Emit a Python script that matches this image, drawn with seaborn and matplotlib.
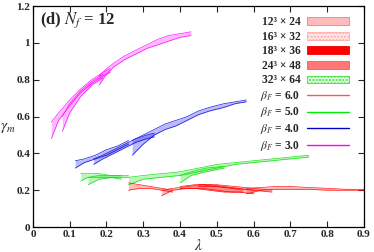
import numpy as np
import pandas as pd
import matplotlib
matplotlib.use("Agg")
import matplotlib.pyplot as plt
import seaborn as sns
from matplotlib.patches import Patch
from matplotlib.lines import Line2D

# ---------------- data ----------------
volume_labels = ["12³ × 24", "16³ × 32", "18³ × 36", "24³ × 48", "32³ × 64"]
beta_labels = ["6.0", "5.0", "4.0", "3.0"]
x_ticks = [0, 0.1, 0.2, 0.3, 0.4, 0.5, 0.6, 0.7, 0.8, 0.9]
y_ticks = [0, 0.2, 0.4, 0.6, 0.8, 1.0, 1.2]

# beta_F = 3.0 (magenta)
b3a_x = [0.05, 0.07, 0.10, 0.13, 0.16, 0.19, 0.21]
b3a_lo = [0.48, 0.58, 0.66, 0.73, 0.78, 0.82, 0.84]
b3a_hi = [0.57, 0.62, 0.69, 0.75, 0.80, 0.84, 0.86]
b3b_x = [0.08, 0.10, 0.13, 0.16, 0.19]
b3b_lo = [0.52, 0.62, 0.71, 0.77, 0.81]
b3b_hi = [0.60, 0.67, 0.74, 0.79, 0.83]
b3c_x = [0.18, 0.20, 0.22, 0.25, 0.28, 0.31, 0.34, 0.37, 0.40, 0.43]
b3c_lo = [0.77, 0.83, 0.87, 0.91, 0.94, 0.97, 0.99, 1.01, 1.03, 1.04]
b3c_hi = [0.82, 0.86, 0.89, 0.93, 0.96, 0.99, 1.02, 1.04, 1.05, 1.06]

# beta_F = 4.0 (blue)
b4a_x = [0.115, 0.14, 0.17, 0.20, 0.23, 0.26]
b4a_lo = [0.32, 0.35, 0.37, 0.39, 0.42, 0.45]
b4a_hi = [0.36, 0.37, 0.39, 0.42, 0.44, 0.47]
b4b_x = [0.165, 0.19, 0.22, 0.25, 0.28, 0.31, 0.33]
b4b_lo = [0.34, 0.37, 0.40, 0.43, 0.46, 0.48, 0.49]
b4b_hi = [0.37, 0.39, 0.42, 0.45, 0.48, 0.50, 0.51]
b4c_x = [0.27, 0.30, 0.33, 0.36, 0.39, 0.42, 0.45, 0.48, 0.52, 0.55, 0.58]
b4c_lo = [0.39, 0.45, 0.50, 0.53, 0.55, 0.58, 0.61, 0.63, 0.65, 0.67, 0.68]
b4c_hi = [0.47, 0.50, 0.53, 0.56, 0.58, 0.60, 0.63, 0.65, 0.67, 0.68, 0.69]

# beta_F = 5.0 (green)
b5a_x = [0.13, 0.15, 0.18, 0.21, 0.24]
b5a_lo = [0.25, 0.27, 0.27, 0.27, 0.26]
b5a_hi = [0.29, 0.29, 0.29, 0.28, 0.28]
b5b_x = [0.15, 0.18, 0.22, 0.26]
b5b_lo = [0.23, 0.26, 0.27, 0.27]
b5b_hi = [0.27, 0.28, 0.28, 0.28]
b5c_x = [0.26, 0.30, 0.35, 0.40, 0.45, 0.50, 0.55, 0.60, 0.65, 0.70, 0.75]
b5c_lo = [0.23, 0.26, 0.27, 0.28, 0.30, 0.32, 0.34, 0.35, 0.36, 0.37, 0.38]
b5c_hi = [0.27, 0.28, 0.29, 0.30, 0.32, 0.34, 0.35, 0.36, 0.37, 0.38, 0.39]
b5d_x = [0.40, 0.43, 0.47, 0.52]
b5d_lo = [0.24, 0.28, 0.30, 0.32]
b5d_hi = [0.28, 0.30, 0.32, 0.33]

# beta_F = 6.0 (red)
b6a_x = [0.26, 0.29, 0.32, 0.35, 0.38]
b6a_lo = [0.20, 0.21, 0.21, 0.20, 0.19]
b6a_hi = [0.24, 0.23, 0.22, 0.21, 0.20]
b6b_x = [0.35, 0.38, 0.42, 0.46, 0.50, 0.54, 0.57]
b6b_lo = [0.17, 0.20, 0.21, 0.21, 0.20, 0.19, 0.19]
b6b_hi = [0.20, 0.21, 0.22, 0.23, 0.22, 0.21, 0.20]
b6c_x = [0.40, 0.44, 0.48, 0.52, 0.56, 0.60]
b6c_lo = [0.21, 0.21, 0.20, 0.19, 0.19, 0.18]
b6c_hi = [0.22, 0.23, 0.23, 0.22, 0.21, 0.20]
b6d_x = [0.58, 0.62, 0.66, 0.70, 0.75, 0.80, 0.85, 0.90]
b6d_lo = [0.18, 0.20, 0.205, 0.205, 0.205, 0.20, 0.20, 0.20]
b6d_hi = [0.21, 0.215, 0.22, 0.22, 0.215, 0.21, 0.205, 0.205]
b6e_x = [0.45, 0.50, 0.55, 0.60, 0.65]
b6e_lo = [0.22, 0.22, 0.21, 0.20, 0.19]
b6e_hi = [0.23, 0.23, 0.22, 0.21, 0.20]

# ---------------- style ----------------
sns.set_style("ticks")
plt.rcParams['font.family'] = ['Liberation Serif', 'DejaVu Serif']
plt.rcParams['mathtext.fontset'] = 'stix'
plt.rcParams['xtick.direction'] = 'in'
plt.rcParams['ytick.direction'] = 'in'

c3, c4, c5, c6 = '#ff00ff', '#0000e0', '#00e000', '#ff0000'

bands = [
    (b3a_x, b3a_lo, b3a_hi, c3), (b3b_x, b3b_lo, b3b_hi, c3), (b3c_x, b3c_lo, b3c_hi, c3),
    (b4a_x, b4a_lo, b4a_hi, c4), (b4b_x, b4b_lo, b4b_hi, c4), (b4c_x, b4c_lo, b4c_hi, c4),
    (b5a_x, b5a_lo, b5a_hi, c5), (b5b_x, b5b_lo, b5b_hi, c5), (b5c_x, b5c_lo, b5c_hi, c5),
    (b5d_x, b5d_lo, b5d_hi, c5),
    (b6a_x, b6a_lo, b6a_hi, c6), (b6b_x, b6b_lo, b6b_hi, c6), (b6c_x, b6c_lo, b6c_hi, c6),
    (b6d_x, b6d_lo, b6d_hi, c6), (b6e_x, b6e_lo, b6e_hi, c6),
]

fig = plt.figure(figsize=(3.74, 2.52), dpi=100)
ax = fig.add_axes([0.088, 0.099, 0.885, 0.877])

for bx, lo, hi, col in bands:
    df = pd.DataFrame({"x": bx, "lo": lo, "hi": hi})
    ax.fill_between(df["x"], df["lo"], df["hi"], color=col, alpha=0.27, lw=0)
    sns.lineplot(data=df, x="x", y="lo", ax=ax, color=col, lw=0.5, alpha=0.9, legend=False)
    sns.lineplot(data=df, x="x", y="hi", ax=ax, color=col, lw=0.5, alpha=0.9, legend=False)

ax.set_xlim(0, 0.9)
ax.set_ylim(0, 1.2)
ax.set_xticks(x_ticks)
ax.set_yticks(y_ticks)
ax.set_xticklabels([f"{v:g}" for v in x_ticks], fontsize=8, fontweight='bold')
ax.set_yticklabels([f"{v:g}" for v in y_ticks], fontsize=8, fontweight='bold')
ax.tick_params(top=True, right=True, length=4, width=0.8, pad=2)
for s in ax.spines.values():
    s.set_linewidth(0.9)
    s.set_color('black')

ax.set_xlabel(r"$\lambda$", fontsize=11, va='center')
ax.xaxis.set_label_coords(0.5, -0.085)
ax.set_ylabel(r"$\gamma_m$", fontsize=11, rotation=0, va='center', ha='center')
ax.yaxis.set_label_coords(-0.075, 0.45)

ax.text(0.022, 0.935, r"(d) $\boldsymbol{N_f}$ = 12", transform=ax.transAxes,
        fontsize=12, fontweight='bold', va='center', ha='left')

handles = [
    Patch(facecolor='#ffbbbb', edgecolor='#ff7777', lw=0.6),
    Patch(facecolor='#ffe8e8', edgecolor='#ffaaaa', hatch='.....', lw=0.6),
    Patch(facecolor='#ff0000', edgecolor='#ee0000', lw=0.6),
    Patch(facecolor='#ff7777', edgecolor='#ff5555', lw=0.6),
    Patch(facecolor='#ddffdd', edgecolor='#44dd44', hatch='.....', lw=0.6),
    Line2D([], [], color='#ff5555', lw=1.0),
    Line2D([], [], color='#00ee00', lw=1.0),
    Line2D([], [], color='#0000cc', lw=1.0),
    Line2D([], [], color='#ff00ff', lw=1.0),
]
labels = volume_labels + [r"$\beta_F$ = " + b for b in beta_labels]
leg = ax.legend(handles, labels, loc='upper right', bbox_to_anchor=(0.975, 0.985),
                frameon=False, markerfirst=False, fontsize=8.3,
                handlelength=3.6, handleheight=0.65, labelspacing=0.22,
                handletextpad=0.6, borderaxespad=0.2)
for t in leg.get_texts():
    t.set_fontweight('bold')

fig.savefig("out.png", dpi=100)
